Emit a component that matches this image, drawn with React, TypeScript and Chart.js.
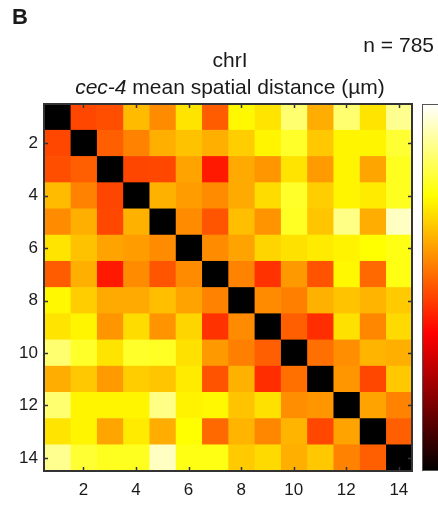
import React, { useEffect, useRef } from 'react';
import { Chart, registerables } from 'chart.js';
Chart.register(...registerables);

// Loci along chromosome I (row / column labels)
const loci = ['1', '2', '3', '4', '5', '6', '7', '8', '9', '10', '11', '12', '13', '14'];
const xTickValues = [2, 4, 6, 8, 10, 12, 14];
const yTickLabels = ['2', '4', '6', '8', '10', '12', '14'];
const colorLimits = [0, 1];

// Mean spatial distance (normalised to the colour scale, 0 = black, 1 = white)
const row01 = [0, 0.48, 0.49, 0.65, 0.58, 0.71, 0.51, 0.74, 0.71, 0.86, 0.63, 0.86, 0.71, 0.89];
const row02 = [0.48, 0, 0.515, 0.566, 0.632, 0.66, 0.632, 0.676, 0.735, 0.79, 0.669, 0.735, 0.735, 0.8];
const row03 = [0.49, 0.515, 0, 0.478, 0.48, 0.615, 0.412, 0.625, 0.596, 0.71, 0.603, 0.735, 0.618, 0.78];
const row04 = [0.65, 0.566, 0.478, 0, 0.636, 0.606, 0.581, 0.625, 0.699, 0.79, 0.676, 0.735, 0.721, 0.78];
const row05 = [0.58, 0.632, 0.48, 0.636, 0, 0.58, 0.5, 0.654, 0.592, 0.785, 0.666, 0.88, 0.63, 0.94];
const row06 = [0.71, 0.66, 0.615, 0.606, 0.58, 0, 0.581, 0.614, 0.688, 0.706, 0.721, 0.732, 0.75, 0.77];
const row07 = [0.51, 0.632, 0.412, 0.581, 0.5, 0.581, 0, 0.566, 0.449, 0.6, 0.497, 0.74, 0.529, 0.77];
const row08 = [0.74, 0.676, 0.625, 0.625, 0.654, 0.614, 0.566, 0, 0.581, 0.562, 0.636, 0.662, 0.64, 0.672];
const row09 = [0.71, 0.735, 0.596, 0.699, 0.592, 0.688, 0.449, 0.581, 0, 0.515, 0.441, 0.706, 0.574, 0.695];
const row10 = [0.86, 0.79, 0.71, 0.79, 0.785, 0.706, 0.6, 0.562, 0.515, 0, 0.54, 0.585, 0.64, 0.632];
const row11 = [0.63, 0.669, 0.603, 0.676, 0.666, 0.721, 0.497, 0.636, 0.441, 0.54, 0, 0.596, 0.48, 0.669];
const row12 = [0.86, 0.735, 0.735, 0.735, 0.88, 0.732, 0.74, 0.662, 0.706, 0.585, 0.596, 0, 0.614, 0.566];
const row13 = [0.71, 0.735, 0.618, 0.721, 0.63, 0.75, 0.529, 0.64, 0.574, 0.64, 0.48, 0.614, 0, 0.515];
const row14 = [0.89, 0.8, 0.78, 0.78, 0.94, 0.77, 0.77, 0.672, 0.695, 0.632, 0.669, 0.566, 0.515, 0];
const distances = [row01, row02, row03, row04, row05, row06, row07, row08, row09, row10, row11, row12, row13, row14];

const FONT = 'Arial, "Liberation Sans", Helvetica, sans-serif';
const AXIS_COLOR = '#333333';
const TEXT_COLOR = '#1a1a1a';

function clamp01(v: number) {
  return Math.max(0, Math.min(1, v));
}
function hot(v: number) {
  const t = clamp01((v - colorLimits[0]) / (colorLimits[1] - colorLimits[0]));
  const r = clamp01(t / 0.375);
  const g = clamp01((t - 0.375) / 0.375);
  const b = clamp01((t - 0.75) / 0.25);
  return `rgb(${Math.round(r * 255)},${Math.round(g * 255)},${Math.round(b * 255)})`;
}

const decorPlugin = {
  id: 'decor',
  afterDraw(chart: any) {
    const { ctx, chartArea } = chart;
    const xs = chart.scales.x;
    const ys = chart.scales.y;
    const { left, right, top, bottom } = chartArea;
    ctx.save();

    // border
    ctx.strokeStyle = AXIS_COLOR;
    ctx.lineWidth = 2;
    ctx.strokeRect(left, top, right - left, bottom - top);

    // inward tick marks
    const tl = 4;
    ctx.lineWidth = 1.5;
    ctx.beginPath();
    xTickValues.forEach((v) => {
      const px = Math.round(xs.getPixelForValue(v)) + 0.5;
      ctx.moveTo(px, bottom);
      ctx.lineTo(px, bottom - tl);
      ctx.moveTo(px, top);
      ctx.lineTo(px, top + tl);
    });
    yTickLabels.forEach((lab) => {
      const py = Math.round(ys.getPixelForValue(loci.indexOf(lab))) + 0.5;
      ctx.moveTo(left, py);
      ctx.lineTo(left + tl, py);
      ctx.moveTo(right, py);
      ctx.lineTo(right - tl, py);
    });
    ctx.stroke();

    // colour bar
    const cbLeft = 422;
    const cbWidth = 30;
    const grad = ctx.createLinearGradient(0, bottom, 0, top);
    for (let i = 0; i <= 32; i++) {
      const f = i / 32;
      grad.addColorStop(f, hot(colorLimits[0] + f * (colorLimits[1] - colorLimits[0])));
    }
    ctx.fillStyle = grad;
    ctx.fillRect(cbLeft, top, cbWidth, bottom - top);
    ctx.strokeStyle = '#555555';
    ctx.lineWidth = 1;
    ctx.strokeRect(cbLeft + 0.5, top + 0.5, cbWidth, bottom - top - 1);

    // texts
    ctx.fillStyle = TEXT_COLOR;
    ctx.textBaseline = 'middle';
    ctx.textAlign = 'left';
    ctx.font = `bold 22px ${FONT}`;
    ctx.fillText('B', 12, 18);

    ctx.font = `21px ${FONT}`;
    ctx.textAlign = 'right';
    ctx.fillText('n = 785', 434, 46);

    ctx.textAlign = 'center';
    const cx = 230;
    ctx.fillText('chrI', cx, 61);

    const part1 = 'cec-4';
    const part2 = ' mean spatial distance (\u00b5m)';
    ctx.font = `italic 21px ${FONT}`;
    const w1 = ctx.measureText(part1).width;
    ctx.font = `21px ${FONT}`;
    const w2 = ctx.measureText(part2).width;
    const start = cx - (w1 + w2) / 2;
    ctx.textAlign = 'left';
    ctx.font = `italic 21px ${FONT}`;
    ctx.fillText(part1, start, 88);
    ctx.font = `21px ${FONT}`;
    ctx.fillText(part2, start + w1, 88);

    ctx.restore();
  },
};

export default function App() {
  const canvasRef = useRef<HTMLCanvasElement | null>(null);

  useEffect(() => {
    document.body.style.margin = '0';
    const canvas = canvasRef.current;
    if (!canvas) return;

    const datasets = loci.map((_, j) => ({
      label: `locus ${loci[j]}`,
      data: distances.map(() => [j + 0.5, j + 1.5]),
      backgroundColor: distances.map((row) => hot(row[j])),
      borderWidth: 0,
      barPercentage: 1,
      categoryPercentage: 1,
      grouped: false,
    }));

    const chart = new Chart(canvas, {
      type: 'bar',
      data: { labels: loci, datasets: datasets as any },
      options: {
        indexAxis: 'y',
        animation: false,
        responsive: false,
        maintainAspectRatio: false,
        layout: { padding: { top: 104, right: 26, left: 0, bottom: 0 } },
        plugins: {
          legend: { display: false },
          tooltip: { enabled: false },
          title: { display: false },
        },
        scales: {
          x: {
            type: 'linear',
            min: 0.5,
            max: 14.5,
            grid: { display: false, drawTicks: false },
            border: { display: false },
            afterBuildTicks: (s: any) => {
              s.ticks = xTickValues.map((v) => ({ value: v }));
            },
            afterFit: (s: any) => {
              s.height = 58;
            },
            ticks: {
              padding: 9,
              color: TEXT_COLOR,
              font: { family: FONT, size: 17 },
              maxRotation: 0,
              autoSkip: false,
            },
          },
          y: {
            type: 'category',
            offset: true,
            grid: { display: false, drawTicks: false },
            border: { display: false },
            afterFit: (s: any) => {
              s.width = 44;
            },
            ticks: {
              padding: 6,
              autoSkip: false,
              color: TEXT_COLOR,
              font: { family: FONT, size: 17 },
              callback: (_v: any, idx: number) => (yTickLabels.includes(loci[idx]) ? loci[idx] : ''),
            },
          },
        },
      },
      plugins: [decorPlugin],
    });

    return () => chart.destroy();
  }, []);

  return (
    <div style={{ position: 'absolute', left: 0, top: 0, width: 438, height: 529, background: '#ffffff', overflow: 'hidden' }}>
      <canvas ref={canvasRef} width={438} height={529} style={{ display: 'block', width: 438, height: 529 }} />
    </div>
  );
}
